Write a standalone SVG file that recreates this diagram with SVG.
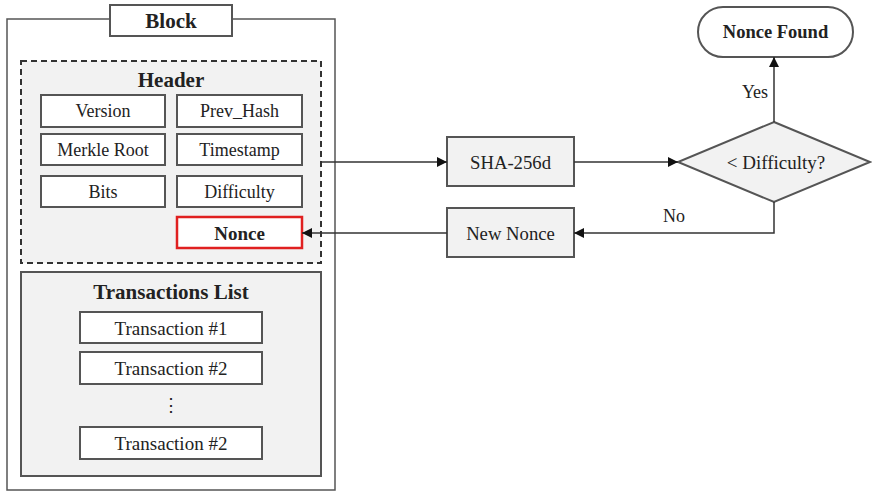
<svg xmlns="http://www.w3.org/2000/svg" width="872" height="494" viewBox="0 0 872 494">
<defs>
<style>
.t{font-family:"Liberation Serif","Times New Roman",serif;fill:#222;text-anchor:middle;dominant-baseline:central}
.b{font-weight:bold}
.box{fill:#fff;stroke:#555;stroke-width:2}
.gbox{fill:#f2f2f2;stroke:#555;stroke-width:2}
.ln{fill:none;stroke:#333;stroke-width:1.5}
</style>
<marker id="ah" viewBox="0 0 10 10" refX="10" refY="5" markerWidth="10" markerHeight="10" markerUnits="userSpaceOnUse" orient="auto">
<path d="M0,0 L10,5 L0,10 z" fill="#111"/>
</marker>
</defs>
<rect width="872" height="494" fill="#fff"/>
<g id="block">
<rect x="7" y="19" width="328" height="471" fill="#fff" stroke="#555" stroke-width="1.5"/>
<rect x="110" y="5" width="122" height="31" class="box"/>
<text x="171" y="21" class="t b" font-size="21">Block</text>
</g>
<g id="header">
<rect x="21" y="61" width="300" height="202" fill="#f2f2f2" stroke="#333" stroke-width="2" stroke-dasharray="6,4"/>
<text x="171" y="80" class="t b" font-size="21">Header</text>
</g>
<g id="version"><rect x="41" y="95" width="124" height="32" class="box"/><text x="103" y="111" class="t" font-size="18">Version</text></g>
<g id="prev_hash"><rect x="177" y="95" width="125" height="32" class="box"/><text x="239.5" y="111" class="t" font-size="18">Prev_Hash</text></g>
<g id="merkle"><rect x="41" y="134" width="124" height="31" class="box"/><text x="103" y="150" class="t" font-size="18">Merkle Root</text></g>
<g id="timestamp"><rect x="177" y="134" width="125" height="31" class="box"/><text x="239.5" y="150" class="t" font-size="18">Timestamp</text></g>
<g id="bits"><rect x="41" y="176" width="124" height="31" class="box"/><text x="103" y="192" class="t" font-size="18">Bits</text></g>
<g id="difficulty"><rect x="177" y="176" width="125" height="31" class="box"/><text x="239.5" y="192" class="t" font-size="18">Difficulty</text></g>
<g id="nonce"><rect x="177" y="217" width="125" height="31" fill="#fff" stroke="#e02020" stroke-width="2.5"/><text x="239.5" y="233" class="t b" font-size="19">Nonce</text></g>
<g id="txlist">
<rect x="21" y="272" width="300" height="204" class="gbox"/>
<text x="171" y="292" class="t b" font-size="21">Transactions List</text>
</g>
<g id="tx1"><rect x="80" y="312" width="182" height="31" class="box"/><text x="171" y="328" class="t" font-size="19">Transaction #1</text></g>
<g id="tx2"><rect x="80" y="352" width="182" height="32" class="box"/><text x="171" y="368" class="t" font-size="19">Transaction #2</text></g>
<g id="dots"><text x="171" y="405" class="t" font-size="18">⋮</text></g>
<g id="txn"><rect x="80" y="427" width="182" height="32" class="box"/><text x="171" y="443" class="t" font-size="19">Transaction #2</text></g>
<g id="sha"><rect x="447" y="137" width="127" height="49" class="gbox"/><text x="510.5" y="162" class="t" font-size="18.7">SHA-256d</text></g>
<g id="newnonce"><rect x="447" y="208" width="127" height="49" class="gbox"/><text x="510.5" y="233" class="t" font-size="18.7">New Nonce</text></g>
<g id="diamond"><polygon points="774,122 870,162 774,202 678,162" class="gbox"/><text x="776" y="162" class="t" font-size="19">&lt; Difficulty?</text></g>
<g id="found"><rect x="698" y="7" width="155" height="50" rx="25" ry="25" class="box"/><text x="775.5" y="32" class="t b" font-size="18.5">Nonce Found</text></g>
<g id="connectors">
<line x1="321" y1="162" x2="447" y2="162" class="ln" marker-end="url(#ah)"/>
<line x1="574" y1="162" x2="678" y2="162" class="ln" marker-end="url(#ah)"/>
<line x1="774" y1="122" x2="774" y2="57" class="ln" marker-end="url(#ah)"/>
<polyline points="774,202 774,233 574,233" class="ln" marker-end="url(#ah)"/>
<line x1="447" y1="233" x2="302" y2="233" class="ln" marker-end="url(#ah)"/>
<text x="755" y="92" class="t" font-size="18">Yes</text>
<text x="674" y="216" class="t" font-size="18">No</text>
</g>
</svg>
